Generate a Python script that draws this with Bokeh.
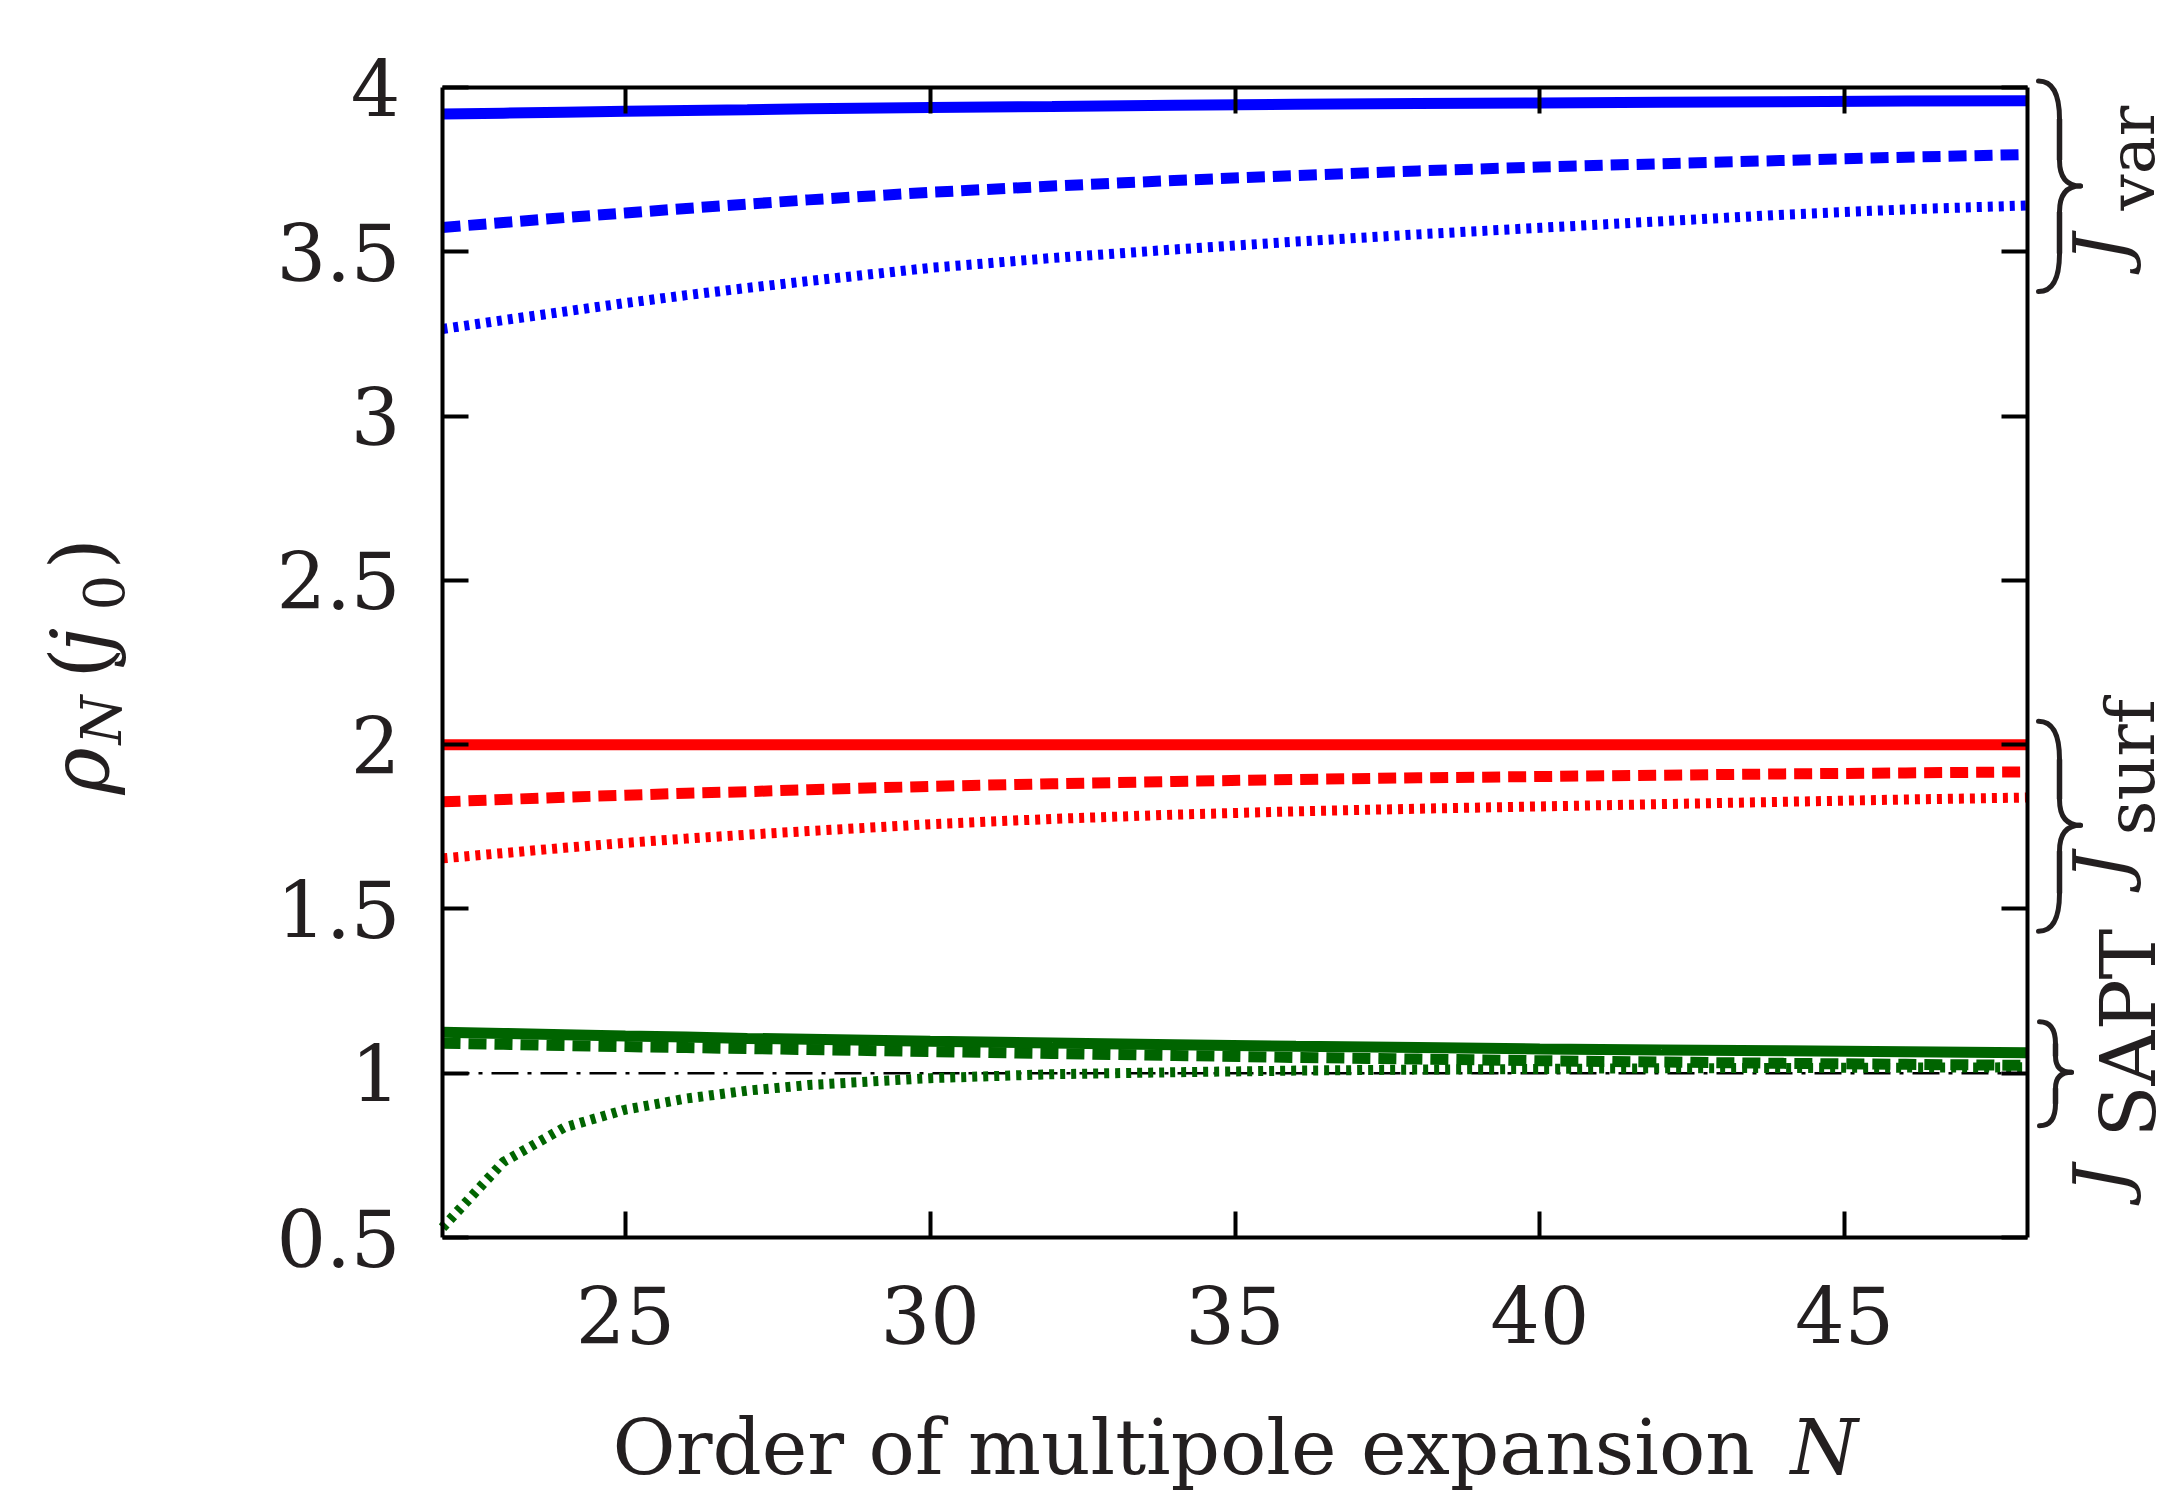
import math
from bokeh.plotting import figure
from bokeh.models import Range1d, FixedTicker, LinearAxis, Label
from bokeh.embed import file_html
from bokeh.resources import INLINE

# ---------------- data ----------------
N = [22, 23, 24, 25, 26, 27, 28, 30, 32, 34, 36, 38, 40, 42, 44, 46, 48]

var_solid = [3.919, 3.922, 3.925, 3.928, 3.930, 3.932, 3.935, 3.939, 3.942,
             3.946, 3.949, 3.951, 3.953, 3.955, 3.957, 3.959, 3.960]
var_dashed = [3.574, 3.589, 3.604, 3.618, 3.632, 3.645, 3.658, 3.681, 3.700,
              3.717, 3.732, 3.746, 3.758, 3.768, 3.778, 3.788, 3.796]
var_dotted = [3.265, 3.292, 3.318, 3.344, 3.368, 3.390, 3.411, 3.451, 3.481,
              3.507, 3.531, 3.553, 3.573, 3.593, 3.613, 3.629, 3.641]

surf_solid = [2.000, 2.000, 2.000, 2.000, 2.000, 2.000, 2.000, 2.000, 2.000,
              2.000, 2.000, 2.000, 2.000, 2.000, 2.000, 2.000, 2.000]
surf_dashed = [1.826, 1.833, 1.840, 1.846, 1.852, 1.857, 1.863, 1.873, 1.881,
               1.888, 1.894, 1.899, 1.903, 1.907, 1.911, 1.914, 1.917]
surf_dotted = [1.654, 1.670, 1.686, 1.701, 1.714, 1.726, 1.737, 1.758, 1.774,
               1.787, 1.797, 1.805, 1.812, 1.819, 1.826, 1.833, 1.839]

sapt_solid = [1.125, 1.121, 1.117, 1.113, 1.110, 1.106, 1.103, 1.097, 1.092,
              1.087, 1.082, 1.078, 1.074, 1.071, 1.068, 1.065, 1.062]
sapt_dashed = [1.091, 1.088, 1.084, 1.081, 1.078, 1.075, 1.072, 1.066, 1.060,
               1.054, 1.048, 1.043, 1.038, 1.034, 1.030, 1.027, 1.024]
sapt_dotted = [0.530, 0.730, 0.835, 0.889, 0.923, 0.947, 0.964, 0.985, 0.997,
               1.003, 1.008, 1.011, 1.013, 1.015, 1.016, 1.017, 1.018]

ref_N = [22, 48]
ref_val = [1.0, 1.0]

x_ticks = [25, 30, 35, 40, 45]
x_tick_labels = ["25", "30", "35", "40", "45"]
y_ticks = [0.5, 1, 1.5, 2, 2.5, 3, 3.5, 4]
y_tick_labels = ["0.5", "1", "1.5", "2", "2.5", "3", "3.5", "4"]

x_label = "Order of multipole expansion"
x_label_var = "N"

brace_subs = ["var", "surf", "SAPT"]
brace_top = [4.020, 2.071, 1.157]
brace_tip = [3.700, 1.755, 1.003]
brace_bot = [3.379, 1.432, 0.840]

# ---------------- layout constants (canvas pixels) ----------------
W, H = 2165, 1493
FL, FR, FT, FB = 442, 2027, 87, 1237      # where the data box sits
XMIN, XMAX, YMIN, YMAX = 22, 48, 0.5, 4
PPX = (FR - FL) / (XMAX - XMIN)
PPY = (FB - FT) / (YMAX - YMIN)
MID = 0.346  # middle of the text box above the alphabetic baseline, in em


def dx(cx):
    return XMIN + (cx - FL) / PPX


def dy(cy):
    return YMAX - (cy - FT) / PPY


TXT = "#231f20"
FONT = "DejaVu Serif"
BLUE, RED, GREEN = "#0000ff", "#ff0000", "#006400"

p = figure(width=W, height=H,
           x_range=Range1d(dx(0), dx(W)), y_range=Range1d(dy(H), dy(0)),
           output_backend="svg", toolbar_location=None,
           x_axis_location=None, y_axis_location=None,
           min_border_left=0, min_border_right=0,
           min_border_top=0, min_border_bottom=0)
p.xgrid.visible = False
p.ygrid.visible = False
p.outline_line_color = None
p.background_fill_color = "white"
p.border_fill_color = "white"


def make_axis(ticks, labels, loc, bounds, show_labels, standoff):
    ax = LinearAxis(ticker=FixedTicker(ticks=ticks),
                    major_label_overrides={t: l for t, l in zip(ticks, labels)},
                    fixed_location=loc, bounds=bounds)
    ax.axis_line_width = 4
    ax.axis_line_color = "black"
    ax.major_tick_in = 26
    ax.major_tick_out = 0
    ax.major_tick_line_width = 4
    ax.major_tick_line_color = "black"
    ax.minor_tick_in = 0
    ax.minor_tick_out = 0
    ax.minor_tick_line_color = None
    ax.major_label_text_font = FONT
    ax.major_label_text_font_size = "78px"
    ax.major_label_standoff = standoff
    ax.major_label_text_color = TXT if show_labels else None
    return ax


p.add_layout(make_axis(x_ticks, x_tick_labels, YMIN, (XMIN, XMAX), True, 48), "below")
p.add_layout(make_axis(y_ticks, y_tick_labels, XMIN, (YMIN, YMAX), True, 42), "left")
p.add_layout(make_axis(x_ticks, x_tick_labels, YMAX, (XMIN, XMAX), False, 0), "above")
p.add_layout(make_axis(y_ticks, y_tick_labels, XMAX, (YMIN, YMAX), False, 0), "right")

# reference line
p.line(ref_N, ref_val, line_color="black", line_width=2.5, line_dash="27 9 4 9")

DASH = "18 8"
DOT = "5 6"
for col, s, d, t in [(BLUE, var_solid, var_dashed, var_dotted),
                     (RED, surf_solid, surf_dashed, surf_dotted),
                     (GREEN, sapt_solid, sapt_dashed, sapt_dotted)]:
    p.line(N, t, line_color=col, line_width=10, line_dash=DOT)
    p.line(N, d, line_color=col, line_width=11, line_dash=DASH)
    p.line(N, s, line_color=col, line_width=11)


def hlabel(text, cx, base_cy, fs, style="normal", align="left"):
    p.add_layout(Label(x=dx(cx), y=dy(base_cy - MID * fs), text=text,
                       text_font=FONT, text_font_size=f"{fs}px",
                       text_font_style=style, text_color=TXT,
                       text_align=align, text_baseline="middle"))


def vlabel(text, base_cx, start_cy, fs, style="normal"):
    # rotated 90 deg counter-clockwise, reading upwards
    p.add_layout(Label(x=dx(base_cx - MID * fs), y=dy(start_cy), text=text,
                       angle=math.pi / 2, text_font=FONT,
                       text_font_size=f"{fs}px", text_font_style=style,
                       text_color=TXT, text_align="left",
                       text_baseline="middle"))


# x-axis label
hlabel(x_label, 612, 1474, 77)
hlabel(x_label_var, 1790, 1474, 77, style="italic")

# y-axis label rho_N(j_0)
vlabel("\u03c1", 108, 794, 80, "italic")
vlabel("N", 120, 744, 56, "italic")
vlabel("(", 108, 678, 80)
vlabel("j", 108, 652, 80, "italic")
vlabel("0", 122, 610, 56)
vlabel(")", 108, 569, 80)

# ---------------- braces with labels on the right ----------------
brace_geom = [(2038, 2059, 2080, 38, 26), (2038, 2059, 2080, 38, 26),
              (2039, 2055, 2071, 22, 16)]
label_pos = [(262, 210), (880, 835), (1193, 1137)]
sub_size = [64, 68, 76]
J_BASE, SUB_BASE = 2125, 2154
for i in range(3):
    c0, cm, ct, r1, r2 = brace_geom[i]
    x0, xm, xt = dx(c0), dx(cm), dx(ct)
    top, tip, bot = brace_top[i], brace_tip[i], brace_bot[i]
    a, b = r1 / PPY, r2 / PPY
    p.quadratic(x0=[x0, xm, xt, xm], y0=[top, tip + b, tip, bot + a],
                x1=[xm, xt, xm, x0], y1=[top - a, tip, tip - b, bot],
                cx=[xm, xm, xm, xm], cy=[top, tip, tip, bot],
                line_color=TXT, line_width=5, line_cap="round")
    p.segment(x0=[xm, xm], y0=[top - a, tip - b], x1=[xm, xm], y1=[tip + b, bot + a],
              line_color=TXT, line_width=5.5)
    jy, sy = label_pos[i]
    vlabel("J", J_BASE, jy, 72, "italic")
    vlabel(brace_subs[i], SUB_BASE, sy, sub_size[i])

open("out.html", "w").write(file_html(p, INLINE))
